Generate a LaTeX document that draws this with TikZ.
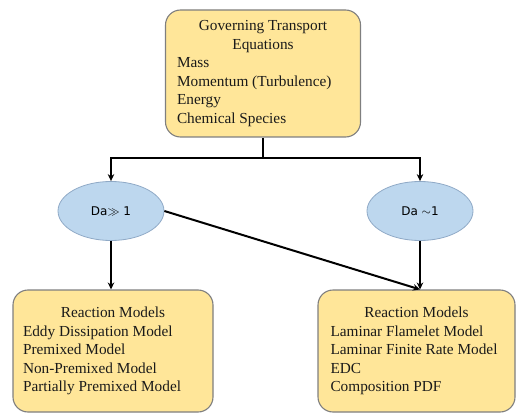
\documentclass[tikz,border=0pt]{standalone}
\usepackage{fontspec}
\setmainfont{Liberation Serif}
\newfontfamily\ellfont{DejaVu Sans}
\usetikzlibrary{shapes.geometric,arrows.meta,calc}
\definecolor{boxfill}{HTML}{FFE699}
\definecolor{boxline}{HTML}{7F7F7F}
\definecolor{ellfill}{HTML}{BDD7EE}
\definecolor{ellline}{HTML}{8FA9C6}
\definecolor{txt}{HTML}{1A1A1A}
\tikzset{
  ybox/.style={draw=boxline, line width=1.1pt, fill=boxfill, rounded corners=15pt, inner sep=0pt, align=center, text=txt},
  bell/.style={ellipse, draw=ellline, line width=0.8pt, fill=ellfill, inner sep=0pt, font=\ellfont\fontsize{12}{14}\selectfont},
  conn/.style={draw=black, line width=2pt, -{Stealth[length=7pt,width=6.5pt]}},
  plainconn/.style={draw=black, line width=2pt}
}
\newcommand{\boxtext}[3]{\begin{minipage}{#1}\fontsize{15.3}{18.5}\selectfont{\centering #2\par}\raggedright #3\end{minipage}}
\begin{document}
\begin{tikzpicture}[x=1pt,y=-1pt]
\useasboundingbox (0,0) rectangle (516,414);
\node[ybox, minimum width=195pt, minimum height=127pt] (top) at (263,73.5)
  {\boxtext{172pt}{Governing Transport\\Equations}{Mass\\Momentum (Turbulence)\\Energy\\Chemical Species}};
\node[bell, minimum width=106pt, minimum height=59pt] (e1) at (111,211) {Da$\gg$ 1};
\node[bell, minimum width=106pt, minimum height=59pt] (e2) at (420,211) {Da $\sim$1};
\node[ybox, minimum width=200pt, minimum height=122pt] (b1) at (113,351)
  {\boxtext{180pt}{Reaction Models}{Eddy Dissipation Model\\Premixed Model\\Non-Premixed Model\\Partially Premixed Model}};
\node[ybox, minimum width=197pt, minimum height=122pt] (b2) at (416.5,351)
  {\boxtext{172pt}{Reaction Models}{Laminar Flamelet Model\\Laminar Finite Rate Model\\EDC\\Composition PDF}};
\coordinate (j) at ($(top.south)+(0,20)$);
\draw[plainconn] (top.south) -- (j);
\draw[conn] (j) -| (e1.north);
\draw[conn] (j) -| (e2.north);
\draw[conn] (e1.south) -- (e1.south |- b1.north);
\draw[conn] (e2.south) -- (e2.south |- b2.north);
\draw[conn] (e1.east) -- (e2.south |- b2.north);
\end{tikzpicture}
\end{document}
